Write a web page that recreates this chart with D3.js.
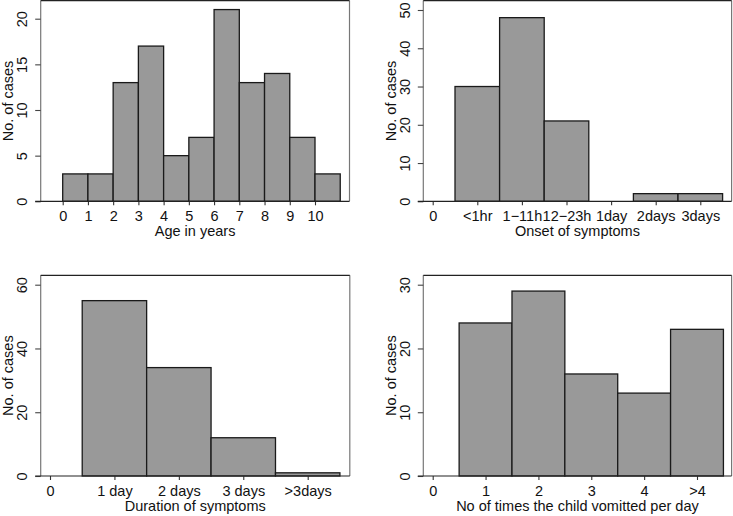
<!DOCTYPE html>
<html><head><meta charset="utf-8">
<script src="https://cdn.jsdelivr.net/npm/d3@7"></script>
<style>
body{margin:0;background:#fff;}
text{font-family:"Liberation Sans",Arial,Helvetica,sans-serif;fill:#111;}
</style></head>
<body><svg id="c" width="733" height="516"></svg>
<script>
// ---- data ----
const ageLabels = ["0","1","2","3","4","5","6","7","8","9","10"];
const ageCounts = [3,3,13,17,5,7,21,13,14,7,3];
const ageYTicks = [0,5,10,15,20];

const onsetLabels = ["0","<1hr","1\u221211h","12\u221223h","1day","2days","3days"];
const onsetCounts = [0,30,48,21,0,2,2];
const onsetYTicks = [0,10,20,30,40,50];

const durationLabels = ["0","1 day","2 days","3 days",">3days"];
const durationCounts = [0,55,34,12,1];
const durationYTicks = [0,20,40,60];

const vomitLabels = ["0","1","2","3","4",">4"];
const vomitCounts = [0,24,29,16,13,23];
const vomitYTicks = [0,10,20,30];

const svg = d3.select("#c");
const FS = 14.5;

function panel(cfg){
  const g = svg.append("g");
  const x = d3.scaleLinear().domain(cfg.xDom).range(cfg.xRange);
  const y = d3.scaleLinear().domain(cfg.yDom).range(cfg.yRange);
  const L = cfg.frame.left, R = cfg.frame.right, T = cfg.frame.top, B = y(0);

  // bars
  const bars = cfg.counts.map((v,i)=>({v,i})).filter(d=>d.v>0);
  g.selectAll("rect.bar").data(bars).enter().append("rect")
    .attr("x", d=> cfg.centered ? x(d.i-0.5) : x(d.i))
    .attr("width", d=> cfg.centered ? x(d.i+0.5)-x(d.i-0.5) : x(d.i+1)-x(d.i))
    .attr("y", d=>y(d.v))
    .attr("height", d=>B-y(d.v))
    .attr("fill","#999999").attr("stroke","#1a1a1a").attr("stroke-width",1.3);

  // frame
  g.append("line").attr("x1",L).attr("x2",L).attr("y1",T).attr("y2",B).attr("stroke","#777").attr("stroke-width",1.2);
  g.append("line").attr("x1",R).attr("x2",R).attr("y1",T).attr("y2",B).attr("stroke","#777").attr("stroke-width",1.2);
  g.append("line").attr("x1",L).attr("x2",R).attr("y1",T).attr("y2",T).attr("stroke","#222").attr("stroke-width",1.2);

  // y axis
  const ya = g.append("g").attr("transform",`translate(${L},0)`)
    .call(d3.axisLeft(y).tickValues(cfg.yTicks).tickSize(5.5).tickSizeOuter(0));
  ya.select(".domain").remove();
  ya.selectAll(".tick line").attr("stroke","#444").attr("stroke-width",1.1);
  ya.selectAll(".tick text").attr("x",null).attr("dy",null)
    .attr("transform","translate(-13.5,0) rotate(-90)")
    .attr("text-anchor","middle").style("font-size",FS+"px").style("font-family",null).attr("fill","#111");

  // x axis
  const xa = g.append("g").attr("transform",`translate(0,${B})`)
    .call(d3.axisBottom(x).tickValues(cfg.labels.map((d,i)=>i)).tickFormat(i=>cfg.labels[i]).tickSize(4).tickSizeOuter(0));
  xa.select(".domain").remove();
  xa.selectAll(".tick line").attr("stroke","#333").attr("stroke-width",1.1);
  xa.selectAll(".tick text").attr("dy",null).attr("y",19.8)
    .style("font-size",FS+"px").style("font-family",null).attr("fill","#111");
  g.append("line").attr("x1",L-5.5).attr("x2",R).attr("y1",B).attr("y2",B).attr("stroke","#222").attr("stroke-width",1.2);

  // titles
  g.append("text").attr("x",(L+R)/2).attr("y",B+34.8).attr("text-anchor","middle")
    .style("font-size",FS+"px").text(cfg.xTitle);
  g.append("text").attr("transform",`translate(${L-27.5},${(T+B)/2}) rotate(-90)`).attr("text-anchor","middle")
    .style("font-size",FS+"px").text("No. of cases");
}

panel({labels:ageLabels, counts:ageCounts, yTicks:ageYTicks, centered:false,
  xDom:[0,10], xRange:[62.7,315.0], yDom:[0,20], yRange:[201.3,18.7],
  frame:{left:40.7,right:349.5,top:0.6}, xTitle:"Age in years"});

panel({labels:onsetLabels, counts:onsetCounts, yTicks:onsetYTicks, centered:true,
  xDom:[0,6], xRange:[432.7,700.3], yDom:[0,50], yRange:[201.3,10],
  frame:{left:423.3,right:731.6,top:0.6}, xTitle:"Onset of symptoms"});

panel({labels:durationLabels, counts:durationCounts, yTicks:durationYTicks, centered:true,
  xDom:[0,4], xRange:[50,307.7], yDom:[0,60], yRange:[476.0,284.7],
  frame:{left:40.7,right:349.8,top:275.3}, xTitle:"Duration of symptoms"});

panel({labels:vomitLabels, counts:vomitCounts, yTicks:vomitYTicks, centered:true,
  xDom:[0,5], xRange:[432.7,697.0], yDom:[0,30], yRange:[476.0,284.7],
  frame:{left:423.3,right:731.6,top:275.3}, xTitle:"No of times the child vomitted per day"});
</script></body></html>
